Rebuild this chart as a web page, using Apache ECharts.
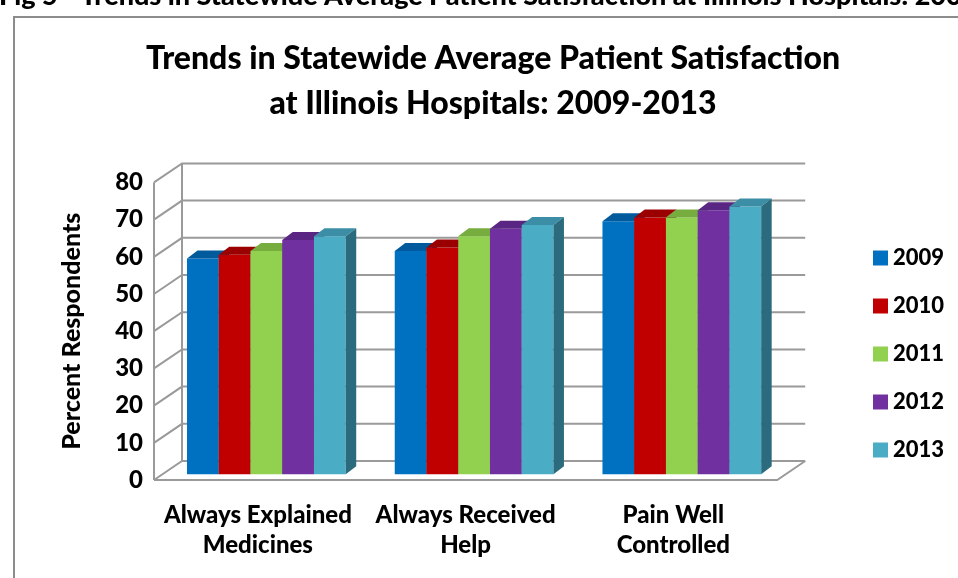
<!DOCTYPE html>
<html>
<head>
<meta charset="utf-8">
<script src="https://cdn.jsdelivr.net/npm/echarts@6/dist/echarts.min.js"></script>
<style>
  html, body { margin: 0; padding: 0; background: #fff; }
  #main { width: 958px; height: 578px; }
</style>
</head>
<body>
<div id="main"></div>
<script>
// data
var categories = ['Always Explained\nMedicines', 'Always Received\nHelp', 'Pain Well\nControlled'];
var years = ['2009', '2010', '2011', '2012', '2013'];
var v2009 = [58, 60, 68];
var v2010 = [59, 61, 69];
var v2011 = [60, 64, 69];
var v2012 = [63, 66, 71];
var v2013 = [64, 67, 72];
var yTicks = [0, 10, 20, 30, 40, 50, 60, 70, 80];

var values = [v2009, v2010, v2011, v2012, v2013];
var colors = ['#0070C0', '#C00000', '#92D050', '#7030A0', '#4BACC6'];
var tops = ['#005A9C', '#9A0000', '#76AD3E', '#5A2683', '#3B8EA6'];
var sides = ['#00427A', '#700000', '#5A8A2C', '#421B62', '#2C6B7D'];

var FONT = 'Lato, "Open Sans", sans-serif';
var W = 900;

// bar depth in the oblique view
var dX = 10.5, dY = -8;
// wall depth (front of box to back wall)
var wX = 28, wY = -19;

function makeBar(k) {
  return function (params, api) {
    var ci = api.value(0);
    var base = api.coord([ci, 0]);
    var top = api.coord([ci, api.value(1)]);
    var band = api.size([1, 0])[0];
    var bw = band * 0.764 / 5;
    var x0 = base[0] - 2.5 * bw + k * bw;
    var ty = top[1], by = base[1];
    return {
      type: 'group',
      children: [
        { type: 'rect', shape: { x: x0, y: ty, width: bw, height: by - ty },
          style: { fill: colors[k] } },
        { type: 'polygon', shape: { points: [[x0, ty], [x0 + bw, ty], [x0 + bw + dX, ty + dY], [x0 + dX, ty + dY]] },
          style: { fill: tops[k] } },
        { type: 'polygon', shape: { points: [[x0 + bw, ty], [x0 + bw + dX, ty + dY], [x0 + bw + dX, by + dY], [x0 + bw, by]] },
          style: { fill: sides[k] } }
      ]
    };
  };
}

function renderFrame(params, api) {
  var v = api.value(1);
  var cs = params.coordSys;
  var fy = api.coord([0, v])[1];
  var fx = cs.x;
  var rx = cs.x + cs.width;
  var ls = { stroke: '#9A9A9A', lineWidth: 2, fill: null };
  var kids = [
    { type: 'polyline', shape: { points: [[fx, fy], [fx + wX, fy + wY], [rx + wX, fy + wY]] }, style: ls }
  ];
  if (v === 0) {
    var topY = api.coord([0, yTicks[yTicks.length - 1]])[1];
    kids.push({ type: 'polyline', shape: { points: [[fx, fy], [rx, fy], [rx + wX, fy + wY]] }, style: ls });
    kids.push({ type: 'line', shape: { x1: fx, y1: fy, x2: fx, y2: topY }, style: ls });
    kids.push({ type: 'line', shape: { x1: fx + wX, y1: fy + wY, x2: fx + wX, y2: topY + wY }, style: ls });
  }
  return { type: 'group', children: kids };
}

var series = [{
  type: 'custom',
  name: 'frame',
  xAxisIndex: 1,
  yAxisIndex: 1,
  clip: false,
  silent: true,
  z: 1,
  renderItem: renderFrame,
  data: yTicks.map(function (t) { return [0, t]; })
}];
years.forEach(function (y, k) {
  series.push({
    type: 'custom',
    name: y,
    xAxisIndex: 0,
    yAxisIndex: 0,
    clip: false,
    z: 2,
    itemStyle: { color: colors[k] },
    renderItem: makeBar(k),
    data: values[k].map(function (v, i) { return [i, v]; })
  });
});

var chart = echarts.init(document.getElementById('main'));
chart.setOption({
  animation: false,
  title: {
    text: 'Trends in Statewide Average Patient Satisfaction\nat Illinois Hospitals: 2009-2013',
    left: 488,
    textAlign: 'center',
    top: 31,
    textStyle: { fontFamily: FONT, fontWeight: W, fontSize: 32, lineHeight: 45, color: '#000' }
  },
  legend: {
    orient: 'vertical',
    left: 868,
    top: 242,
    data: years,
    icon: 'rect',
    itemWidth: 15,
    itemHeight: 15,
    itemGap: 26,
    textStyle: { fontFamily: FONT, fontWeight: W, fontSize: 22, color: '#000' }
  },
  grid: [
    { left: 162.5, top: 176.7, width: 623.2, height: 297.6 },
    { left: 154, top: 182.4, width: 623.2, height: 297.6 }
  ],
  xAxis: [
    { type: 'category', gridIndex: 0, data: categories, show: false },
    { type: 'category', gridIndex: 1, data: categories,
      axisLine: { show: false }, axisTick: { show: false },
      axisLabel: { interval: 0, margin: 20, fontFamily: FONT, fontWeight: W, fontSize: 24, lineHeight: 30, color: '#000' } }
  ],
  yAxis: [
    { type: 'value', gridIndex: 0, min: 0, max: 80, interval: 10, show: false },
    { type: 'value', gridIndex: 1, min: 0, max: 80, interval: 10,
      name: 'Percent Respondents', nameLocation: 'middle', nameGap: 70,
      nameTextStyle: { fontFamily: FONT, fontWeight: W, fontSize: 25, color: '#000' },
      axisLine: { show: false }, axisTick: { show: false }, splitLine: { show: false },
      axisLabel: { margin: 11, fontFamily: FONT, fontWeight: W, fontSize: 24, color: '#000' } }
  ],
  graphic: [
    { type: 'rect', z: -1, shape: { x: 14, y: 17, width: 1000, height: 700 },
      style: { fill: null, stroke: '#8C8C8C', lineWidth: 2 } },
    { type: 'text', x: -1, y: -4,
      style: { text: 'Fig 5 - Trends in Statewide Average Patient Satisfaction at Illinois Hospitals: 2009-2013',
        font: W + ' 27px ' + FONT, fill: '#000', verticalAlign: 'middle' } }
  ],
  series: series
});
</script>
</body>
</html>
